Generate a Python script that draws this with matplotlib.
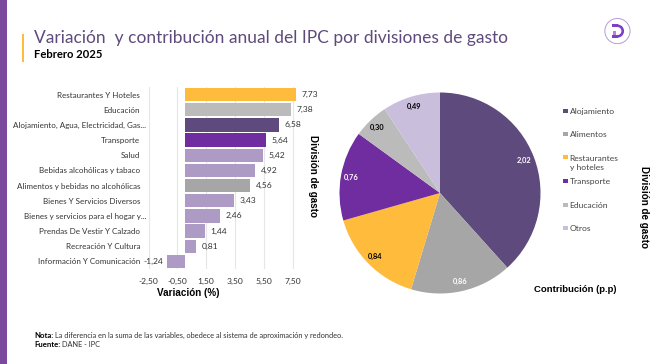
import matplotlib
matplotlib.use("Agg")
import matplotlib.pyplot as plt
from matplotlib.patches import Rectangle, Circle, Wedge

W, H = 650, 364
FONT = "Lato"
HEAD = "Liberation Sans"

categories = ["Restaurantes Y Hoteles", "Educación", "Alojamiento, Agua, Electricidad, Gas...",
              "Transporte", "Salud", "Bebidas alcohólicas y tabaco",
              "Alimentos y bebidas no alcohólicas", "Bienes Y Servicios Diversos",
              "Bienes y servicios para el hogar y...", "Prendas De Vestir Y Calzado",
              "Recreación Y Cultura", "Información Y Comunicación"]
variation = [7.73, 7.38, 6.58, 5.64, 5.42, 4.92, 4.56, 3.43, 2.46, 1.44, 0.81, -1.24]
bar_colors = ["#FFBB3B", "#BBBBBB", "#5E4A7C", "#6F2DA0", "#AD9BC6", "#AD9BC6",
              "#A6A6A6", "#AD9BC6", "#AD9BC6", "#AD9BC6", "#AD9BC6", "#AD9BC6"]
x_ticks = [-2.5, -0.5, 1.5, 3.5, 5.5, 7.5]

pie_labels = ["Alojamiento", "Alimentos", "Restaurantes\ny hoteles", "Transporte", "Educación", "Otros"]
contribution = [2.02, 0.86, 0.84, 0.76, 0.30, 0.49]
pie_colors = ["#5E4A7C", "#A6A6A6", "#FFBB3B", "#6F2DA0", "#BBBBBB", "#C9BFDC"]
pie_text_colors = ["white", "white", "black", "white", "black", "black"]


def coma(v):
    return f"{v:.2f}".replace(".", ",")


fig = plt.figure(figsize=(W / 100, H / 100), dpi=100, facecolor="white")


def fx(x):
    return x / W


def fy(y):
    return 1 - y / H


def label(x, y, s, **kw):
    kw.setdefault("va", "center")
    kw.setdefault("family", FONT)
    return fig.text(fx(x), fy(y), s, **kw)


# decoration
fig.add_artist(Rectangle((0, 0), fx(6.5), 1, transform=fig.transFigure, color="#7B4A9F", lw=0))
fig.add_artist(Rectangle((fx(22), fy(62)), fx(2), 28 / H, transform=fig.transFigure, color="#FFBB3B", lw=0))
label(34.5, 38.5, "Variación  y contribución anual del IPC por divisiones de gasto",
      fontsize=12.55, color="#5E4A7C")
label(34.5, 54, "Febrero 2025", fontsize=8.1, fontweight="bold", color="black")

# logo
logo = fig.add_axes([fx(604.2), fy(44.3), 26.5 / W, 26.5 / H])
logo.set_xlim(-1, 1)
logo.set_ylim(-1, 1)
logo.axis("off")
logo.add_patch(Circle((0, 0), 0.95, fill=False, ec="#B79AD8", lw=0.7))
logo.add_patch(Wedge((0.0, 0), 0.5, -90, 90, width=0.2, color="#7B3FC8", lw=0))
logo.add_patch(Rectangle((-0.4, 0.3), 0.42, 0.2, color="#7B3FC8", lw=0))
logo.add_patch(Rectangle((-0.4, -0.5), 0.42, 0.2, color="#7B3FC8", lw=0))
logo.add_patch(Rectangle((-0.3, -0.3), 0.2, 0.3, color="#C77BD8", lw=0))

# bars
ax = fig.add_axes([fx(148.5), fy(269), (300 - 148.5) / W, (269 - 87) / H])
y = list(range(len(categories)))
ax.barh(y, variation, height=0.89, color=bar_colors, zorder=3)
ax.set_xlim(-2.5, 8.02)
ax.set_ylim(len(categories) - 0.5 + 0.0, -0.5)
ax.set_xticks(x_ticks, [coma(t) for t in x_ticks], fontsize=6.1, family=FONT, color="#333333")
ax.set_yticks(y, categories, fontsize=5.8, family=FONT, color="#333333")
ax.tick_params(length=0)
ax.tick_params(axis="y", pad=6)
ax.tick_params(axis="x", pad=6.7)
ax.grid(axis="x", color="#E6E6E6", lw=0.8, zorder=0)
for s in ax.spines.values():
    s.set_visible(False)
for t, c in zip(ax.yaxis.get_major_ticks(), categories):
    if c.endswith("..."):
        t.set_pad(1.5)
for yi, v in zip(y, variation):
    ax.annotate(coma(v), (v, yi), xytext=(4 if v > 0 else -2.5, 0), textcoords="offset points",
                ha="left" if v > 0 else "right", va="center", fontsize=6.1, family=FONT, color="#333333", zorder=4)

label(188, 293, "Variación (%)", ha="center", fontsize=7.1, fontweight="bold", family=HEAD)
label(313, 175.5, "División de gasto", ha="center", rotation=-90, fontsize=7.1, fontweight="bold", family=HEAD)
label(644, 207, "División de gasto", ha="center", rotation=-90, fontsize=7.1, fontweight="bold", family=HEAD)
label(575, 289, "Contribución (p.p)", ha="center", fontsize=6.8, fontweight="bold", family=HEAD)

# pie
pax = fig.add_axes([fx(339.5), fy(293.5), 201 / W, 201 / H])
wedges, texts = pax.pie(contribution, colors=pie_colors, startangle=90, counterclock=False,
                        labels=[coma(v) for v in contribution], labeldistance=0.9, radius=1.0,
                        textprops=dict(fontsize=5.4, fontweight="bold", family=FONT, ha="center", va="center"))
pax.set_xlim(-1, 1)
pax.set_ylim(-1, 1)
for t, c in zip(texts, pie_text_colors):
    t.set_color(c)
    t.set_ha("center")
    t.set_va("center")

# legend
legend_y = [111, 134, 162.5, 181, 205, 228]
for ly, name, col in zip(legend_y, pie_labels, pie_colors):
    marker_y = ly - 5.5 if "\n" in name else ly
    fig.add_artist(Rectangle((fx(563), fy(marker_y + 2.3)), 4.6 / W, 4.6 / H, transform=fig.transFigure, color=col, lw=0))
    label(569.5, ly + 0.7, name, fontsize=6.1, color="#444444", linespacing=1.35)

# notes
label(34.5, 335.5, "Nota:", fontsize=5.6, fontweight="bold", color="black")
label(55, 335.5, "La diferencia en la suma de las variables, obedece al sistema de aproximación y redondeo.",
      fontsize=5.35, color="#333333")
label(34.5, 344.5, "Fuente:", fontsize=5.6, fontweight="bold", color="black")
label(61.5, 344.5, "DANE - IPC", fontsize=5.35, color="#333333")

fig.savefig("out.png", dpi=100, facecolor="white")
